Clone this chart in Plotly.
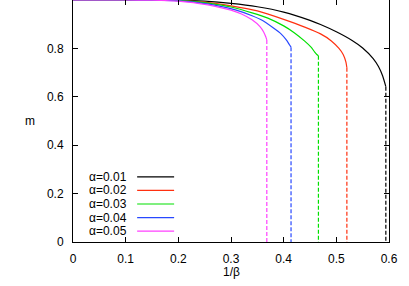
import plotly.graph_objects as go

alphas = ["0.01", "0.02", "0.03", "0.04", "0.05"]
colors = ["#000000", "#ff3010", "#00e000", "#2848ff", "#ff40ff"]

black_x = [0, 0.1, 0.2, 0.25, 0.3, 0.35, 0.4, 0.45, 0.47, 0.5, 0.53, 0.55, 0.57, 0.58, 0.588, 0.594]
black_m = [1, 1, 0.999, 0.995, 0.986, 0.972, 0.950, 0.916, 0.899, 0.869, 0.833, 0.802, 0.758, 0.725, 0.686, 0.642]

red_x = [0, 0.1, 0.2, 0.25, 0.3, 0.35, 0.4, 0.44, 0.47, 0.49, 0.505, 0.513, 0.518, 0.52]
red_m = [1, 1, 0.998, 0.991, 0.976, 0.955, 0.92, 0.888, 0.86, 0.832, 0.8, 0.775, 0.745, 0.72]

green_x = [0, 0.1, 0.18, 0.22, 0.26, 0.3, 0.34, 0.37, 0.4, 0.42, 0.44, 0.452, 0.459, 0.463, 0.466]
green_m = [1, 1, 0.999, 0.995, 0.986, 0.971, 0.947, 0.925, 0.893, 0.865, 0.83, 0.805, 0.785, 0.775, 0.77]

blue_x = [0, 0.1, 0.16, 0.2, 0.24, 0.28, 0.31, 0.34, 0.36, 0.38, 0.395, 0.405, 0.411, 0.414]
blue_m = [1, 1, 0.999, 0.996, 0.988, 0.974, 0.958, 0.935, 0.915, 0.885, 0.86, 0.835, 0.815, 0.805]

mag_x = [0, 0.1, 0.15, 0.2, 0.24, 0.27, 0.3, 0.32, 0.34, 0.355, 0.362, 0.366, 0.368]
mag_m = [1, 1, 0.999, 0.995, 0.985, 0.974, 0.958, 0.942, 0.918, 0.89, 0.868, 0.848, 0.835]

series_x = [black_x, red_x, green_x, blue_x, mag_x]
series_m = [black_m, red_m, green_m, blue_m, mag_m]

x_ticks = [0, 0.1, 0.2, 0.3, 0.4, 0.5, 0.6]
x_tick_labels = ["0", "0.1", "0.2", "0.3", "0.4", "0.5", "0.6"]
y_ticks = [0, 0.2, 0.4, 0.6, 0.8, 1]
y_tick_labels = ["0", "0.2", "0.4", "0.6", "0.8", "1"]

FONT = "Liberation Sans, Arial, Helvetica, sans-serif"
TXT = dict(family=FONT, size=12, color="#000000")

fig = go.Figure()
for xs, ms, c in zip(series_x, series_m, colors):
    fig.add_trace(go.Scatter(x=xs, y=ms, mode="lines",
                             line=dict(color=c, width=1.2, shape="spline", smoothing=0.6),
                             showlegend=False, hoverinfo="skip", cliponaxis=False))
    fig.add_trace(go.Scatter(x=[xs[-1], xs[-1]], y=[ms[-1], 0], mode="lines",
                             line=dict(color=c, width=1.2, dash="4px,2px"),
                             showlegend=False, hoverinfo="skip"))

annotations = []
shapes = []
# legend (gnuplot style: text left, line sample right)
leg_top = 0.269
leg_step = 0.056
for i, (a, c) in enumerate(zip(alphas, colors)):
    yy = leg_top - i * leg_step
    annotations.append(dict(x=0.176, y=yy, xref="paper", yref="paper", text="α=" + a,
                            showarrow=False, xanchor="right", yanchor="middle", font=TXT))
    shapes.append(dict(type="line", xref="paper", yref="paper",
                       x0=0.203, x1=0.320, y0=yy, y1=yy, line=dict(color=c, width=1.2)))

# axis titles
annotations.append(dict(x=0.5, y=0, xref="paper", yref="paper", yshift=-30, text="1/β",
                        showarrow=False, yanchor="middle", font=TXT))
annotations.append(dict(x=0, y=0.5, xref="paper", yref="paper", xshift=-43, text="m",
                        showarrow=False, xanchor="center", yanchor="middle", font=TXT))

axis_common = dict(showline=True, linecolor="#000000", linewidth=1, mirror="allticks",
                   ticks="inside", ticklen=5, tickwidth=1, tickcolor="#000000",
                   showgrid=False, zeroline=False, automargin=False, tickfont=TXT)

fig.update_xaxes(range=[0, 0.6], tickvals=x_ticks, ticktext=x_tick_labels,
                 ticklabelstandoff=6, **axis_common)
fig.update_yaxes(range=[0, 1], tickvals=y_ticks, ticktext=y_tick_labels,
                 ticklabelstandoff=6, **axis_common)

fig.update_layout(width=409, height=286, margin=dict(l=73, r=20, t=0, b=44),
                  plot_bgcolor="#ffffff", paper_bgcolor="#ffffff", showlegend=False,
                  annotations=annotations, shapes=shapes)

fig.write_html("out.html", config={"displayModeBar": False},
               post_script="document.body.style.margin='0';document.body.style.overflow='hidden';")
